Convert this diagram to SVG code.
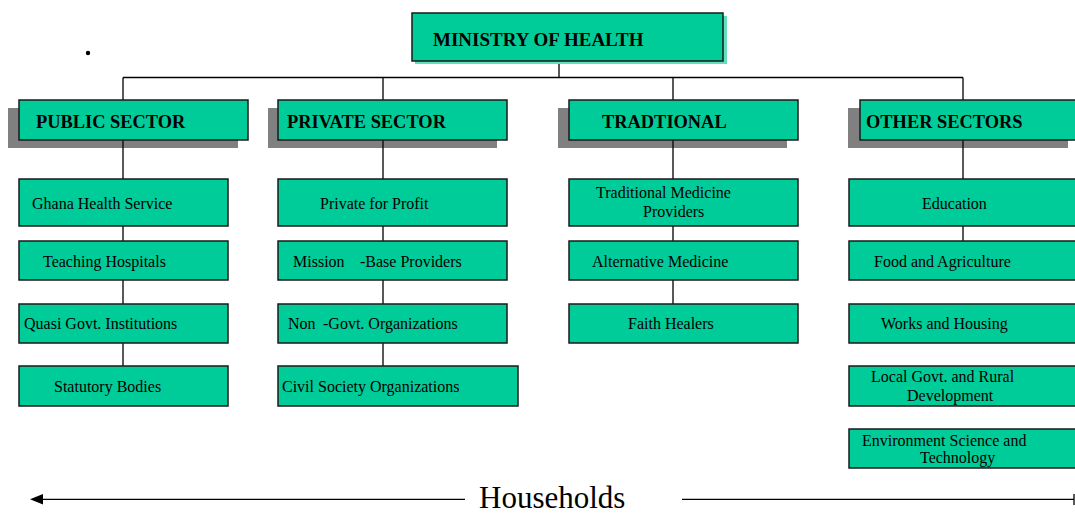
<svg xmlns="http://www.w3.org/2000/svg" width="1075" height="513" viewBox="0 0 1075 513">
<defs>
<style>
.box{fill:#00CC99;stroke:#1a1a1a;stroke-width:1.5}
.sh{fill:#808080}
.ln{stroke:#000;stroke-width:1.3;fill:none}
.h{font-family:"Liberation Serif","Times New Roman",serif;font-weight:bold;font-size:18.4px;fill:#000}
.t{font-family:"Liberation Serif","Times New Roman",serif;font-size:16px;fill:#000}
.big{font-family:"Liberation Serif","Times New Roman",serif;font-size:31px;fill:#000}
</style>
</defs>
<rect width="1075" height="513" fill="#fff"/>
<circle cx="88" cy="53" r="2.2" fill="#000"/>

<g id="shadows">
<rect class="sh" x="8" y="108" width="230" height="40"/>
<rect class="sh" x="268" y="108" width="229" height="40"/>
<rect class="sh" x="558" y="108" width="229" height="40"/>
<rect class="sh" x="848" y="108" width="220" height="40"/>
</g>

<g id="connectors">
<path class="ln" d="M559,61 V77.5 M123,77.5 H963 M123,77.5 V366 M383,77.5 V366 M673,77.5 V304 M963,77.5 V241"/>
<path class="ln" d="M465,499.3 H42"/>
<path d="M30,499.3 L43,494 L43,504.6 Z" fill="#000"/>
<path class="ln" d="M682,499.3 H1074 M1074,494 V505"/>
</g>

<g id="ministry">
<rect x="415" y="16" width="312" height="48" fill="#66DDBB"/>
<rect class="box" x="412" y="13" width="311" height="48"/>
<text class="h" x="433" y="46" style="font-size:19px">MINISTRY OF HEALTH</text>
</g>

<g id="public-sector">
<rect class="box" x="19" y="100" width="229" height="40"/>
<text class="h" x="36" y="128">PUBLIC SECTOR</text>
</g>
<g id="private-sector">
<rect class="box" x="278" y="100" width="229" height="40"/>
<text class="h" x="287" y="128">PRIVATE SECTOR</text>
</g>
<g id="traditional">
<rect class="box" x="569" y="100" width="229" height="40"/>
<text class="h" x="602" y="128">TRADTIONAL</text>
</g>
<g id="other-sectors">
<rect class="box" x="860" y="100" width="220" height="40"/>
<text class="h" x="866" y="128">OTHER SECTORS</text>
</g>

<g id="ghana-health-service">
<rect class="box" x="19" y="179" width="209" height="47"/>
<text class="t" x="32" y="209">Ghana Health Service</text>
</g>
<g id="teaching-hospitals">
<rect class="box" x="19" y="241" width="209" height="39"/>
<text class="t" x="43" y="267">Teaching Hospitals</text>
</g>
<g id="quasi-govt">
<rect class="box" x="19" y="304" width="209" height="39"/>
<text class="t" x="24" y="329">Quasi Govt. Institutions</text>
</g>
<g id="statutory-bodies">
<rect class="box" x="19" y="366" width="209" height="40"/>
<text class="t" x="54" y="392">Statutory Bodies</text>
</g>

<g id="private-for-profit">
<rect class="box" x="278" y="179" width="229" height="47"/>
<text class="t" x="320" y="209">Private for Profit</text>
</g>
<g id="mission-base">
<rect class="box" x="278" y="241" width="229" height="39"/>
<text class="t" x="293" y="267">Mission</text>
<text class="t" x="360" y="267">-Base Providers</text>
</g>
<g id="ngo">
<rect class="box" x="278" y="304" width="229" height="39"/>
<text class="t" x="288" y="329">Non</text>
<text class="t" x="323" y="329">-Govt. Organizations</text>
</g>
<g id="civil-society">
<rect class="box" x="278" y="366" width="240" height="40"/>
<text class="t" x="282" y="392">Civil Society Organizations</text>
</g>

<g id="traditional-medicine">
<rect class="box" x="569" y="179" width="229" height="47"/>
<text class="t" x="596" y="198">Traditional Medicine</text>
<text class="t" x="643" y="217">Providers</text>
</g>
<g id="alternative-medicine">
<rect class="box" x="569" y="241" width="229" height="39"/>
<text class="t" x="592" y="267">Alternative Medicine</text>
</g>
<g id="faith-healers">
<rect class="box" x="569" y="304" width="229" height="39"/>
<text class="t" x="628" y="329">Faith Healers</text>
</g>

<g id="education">
<rect class="box" x="849" y="179" width="230" height="47"/>
<text class="t" x="922" y="209">Education</text>
</g>
<g id="food-agriculture">
<rect class="box" x="849" y="241" width="230" height="39"/>
<text class="t" x="874" y="267">Food and Agriculture</text>
</g>
<g id="works-housing">
<rect class="box" x="849" y="304" width="230" height="39"/>
<text class="t" x="881" y="329">Works and Housing</text>
</g>
<g id="local-govt">
<rect class="box" x="849" y="366" width="230" height="40"/>
<text class="t" x="871" y="382">Local Govt. and Rural</text>
<text class="t" x="907" y="401">Development</text>
</g>
<g id="environment">
<rect class="box" x="849" y="429" width="230" height="39"/>
<text class="t" x="862" y="446">Environment Science and</text>
<text class="t" x="920" y="463">Technology</text>
</g>

<g id="households">
<text class="big" x="479" y="508">Households</text>
</g>
</svg>
